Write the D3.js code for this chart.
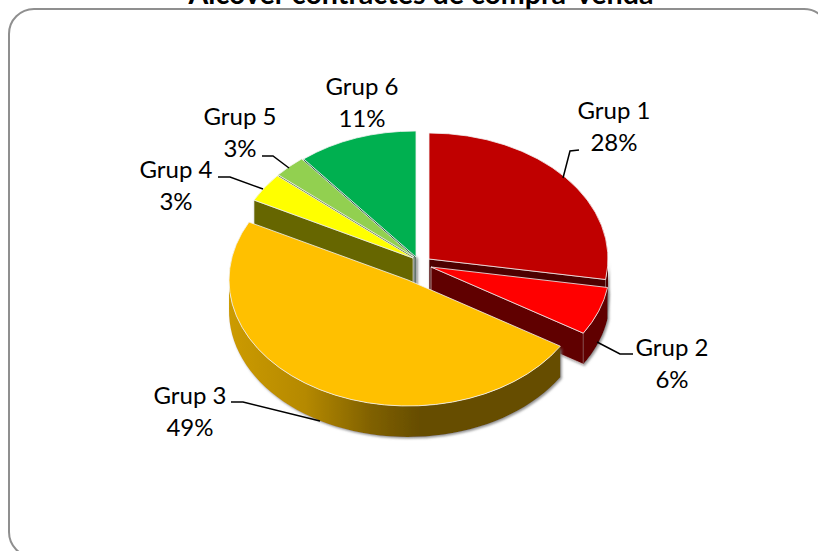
<!DOCTYPE html>
<html><head><meta charset="utf-8">
<script src="https://cdn.jsdelivr.net/npm/d3@7"></script>
<style>html,body{margin:0;padding:0;background:#fff;overflow:hidden}svg{display:block}text{font-family:Lato,"Open Sans",sans-serif;fill:#000}</style>
</head><body><div id="chart"></div>
<script>
const categories=["Grup 1","Grup 2","Grup 3","Grup 4","Grup 5","Grup 6"];
const shares=[27.6,6.2,48.8,3.7,2.9,10.8];
const percentLabels=["28%","6%","49%","3%","3%","11%"];
const topColors=["#c00000","#ff0000","#ffc000","#ffff00","#92d050","#00b050"];
const wallColors=["#4d0000","#600000","#664d00","#666600","#496828","#00451f"];
const apexX=[429,431,408,413,414,416];
const apexY=[259,267,280,258,257,257];
const labelX=[614,672,190,176,240,362];
const labelY=[119,356,404,178,125,95];
const leaders=[[[579,150],[570,151],[563,178]],[[633,354],[620,354],[597,342]],[[231,402],[243,402],[320,421]],[[218,177],[230,177],[263,189]],[[262,156],[273,156],[289,168]],[]];
const W=818,H=551,RX=179,RY=126,DEPTH=31;
const svg=d3.select("#chart").append("svg").attr("width",W).attr("height",H);
const defs=svg.append("defs");
const f=defs.append("filter").attr("id","sh").attr("x","-10%").attr("y","-10%").attr("width","120%").attr("height","120%");
f.append("feDropShadow").attr("dx",1.5).attr("dy",1.5).attr("stdDeviation",1).attr("flood-color","#777").attr("flood-opacity",.8);
defs.append("filter").attr("id","blur").attr("x","-300%").attr("width","700%").append("feGaussianBlur").attr("stdDeviation",.8);
const g3=defs.append("linearGradient").attr("id","gold").attr("gradientUnits","userSpaceOnUse").attr("x1",229).attr("x2",420).attr("y1",0).attr("y2",0);
[[0,"#cc9b00"],[.4,"#b58900"],[.75,"#7f6000"],[1,"#664d00"]].forEach(s=>g3.append("stop").attr("offset",s[0]).attr("stop-color",s[1]));
svg.append("rect").attr("x",9).attr("y",9).attr("width",820).attr("height",548).attr("rx",25).attr("fill","#fff").attr("stroke","#8f8f8f").attr("stroke-width",2);
svg.append("text").attr("x",421).attr("y",4).attr("text-anchor","middle").attr("font-size",28.6).attr("font-weight",700).text("Alcover contractes de compra-venda");
const arcs=d3.pie().value(d=>d).sort(null)(shares);
const arc=d3.arc().innerRadius(0).outerRadius(RX);
const px=(i,a)=>apexX[i]+RX*Math.sin(a);
const py=(i,a)=>apexY[i]-RY*Math.cos(a);
const line=d3.line();
[[5,1.8,.77],[0,-1.8,.77]].forEach(([i,dx,r])=>{
 svg.append("path").attr("d",line([[apexX[i]+dx,apexY[i]-RY*r],[apexX[i]+dx,apexY[i]+DEPTH-4]]))
  .attr("stroke","#999").attr("stroke-width",2).attr("filter","url(#blur)");
});
const order=[5,4,3,0,1,2];
const pie=svg.append("g");
order.forEach(i=>{
 const d=arcs[i],g=pie.append("g"),w=g.append("g").attr("filter","url(#sh)");
 const a=d.endAngle<=Math.PI?d.endAngle:d.startAngle>=Math.PI?d.startAngle:null;
 if(a!==null){
  w.append("path").attr("fill",wallColors[i]).attr("stroke","#e8e8e8").attr("stroke-width",.6)
   .attr("d",line([[apexX[i],apexY[i]],[px(i,a),py(i,a)],[px(i,a),py(i,a)+DEPTH],[apexX[i],apexY[i]+DEPTH]])+"Z");
 }
 const n=60,lo=d.startAngle,hi=d.endAngle;
 const vis=d3.range(n+1).map(k=>lo+(hi-lo)*k/n).filter(t=>Math.cos(t)<=0.02).map(t=>[px(i,t),py(i,t)]);
 if(vis.length>1){
  const wall=vis.concat(vis.slice().reverse().map(p=>[p[0],p[1]+DEPTH]));
  w.append("path").attr("fill",i===2?"url(#gold)":wallColors[i]).attr("d",line(wall)+"Z");
 }
 g.append("path").attr("d",arc(d)).attr("transform",`translate(${apexX[i]},${apexY[i]}) scale(1,${RY/RX})`)
  .attr("fill",topColors[i]).attr("stroke","#f2f2f2").attr("stroke-width",.8).attr("vector-effect","non-scaling-stroke");
});
leaders.forEach(p=>{if(p.length)svg.append("path").attr("d",line(p)).attr("fill","none").attr("stroke","#000").attr("stroke-width",1.5);});
categories.forEach((c,i)=>{
 const t=svg.append("text").attr("text-anchor","middle").attr("font-size",24);
 t.append("tspan").attr("x",labelX[i]).attr("y",labelY[i]).text(c);
 t.append("tspan").attr("x",labelX[i]).attr("y",labelY[i]+32).text(percentLabels[i]);
});
</script></body></html>
